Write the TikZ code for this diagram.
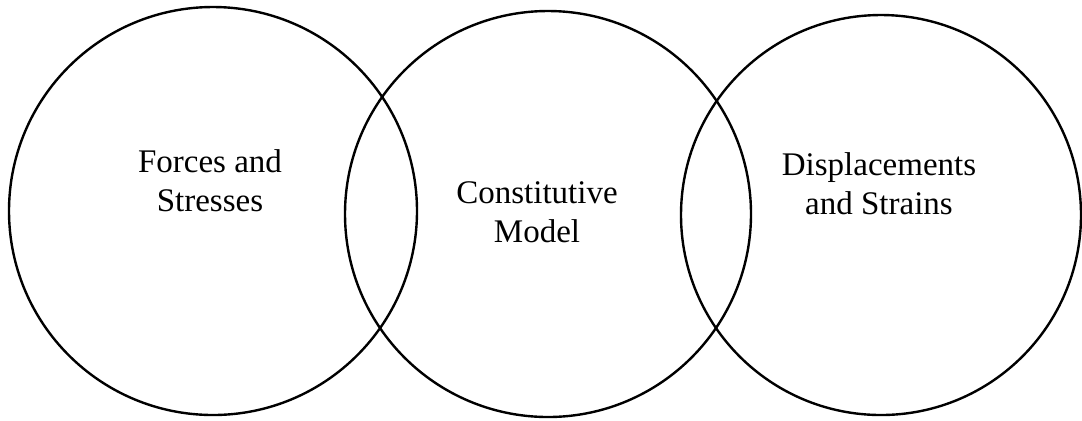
\documentclass[tikz,border=0pt]{standalone}
\usepackage{fontspec}
\setmainfont{Liberation Serif}
\begin{document}
\begin{tikzpicture}[x=0.5pt,y=-0.5pt,
  ring/.style={circle, draw=black, line width=1.2pt, inner sep=0pt},
  lbl/.style={align=center, font=\fontsize{16.5pt}{19.5pt}\selectfont, inner sep=0pt}]
\useasboundingbox (0,0) rectangle (1082,420);
\node[ring, minimum size=204pt] (c1) at (213,211) {};
\node[ring, minimum size=203pt] (c2) at (548,214) {};
\node[ring, minimum size=200pt] (c3) at (881,215) {};
\node[lbl] (t1) at (210,181) {Forces and\\Stresses};
\node[lbl] (t2) at (537,212) {Constitutive\\Model};
\node[lbl] (t3) at (879,184) {Displacements\\and Strains};
\end{tikzpicture}
\end{document}
